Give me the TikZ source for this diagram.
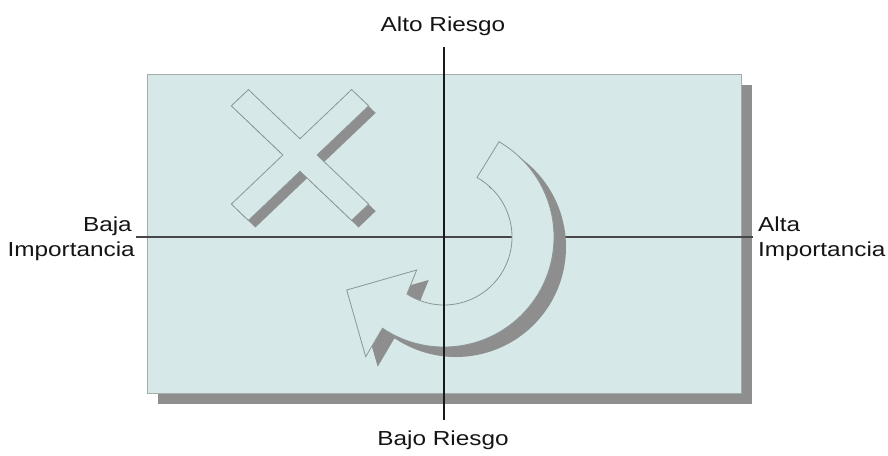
\documentclass[tikz,border=0pt]{standalone}
\usepackage{fontspec}
\setmainfont{Liberation Sans}[FakeStretch=1.2]
\definecolor{bgc}{RGB}{214,232,232}
\definecolor{shd}{RGB}{142,142,142}
\definecolor{edgec}{RGB}{140,150,150}
\definecolor{txtc}{RGB}{20,20,20}
\begin{document}
\begin{tikzpicture}[x=1pt,y=-1pt,
  lbl/.style={inner sep=0pt, font=\fontsize{20.3}{24}\selectfont, text=txtc},
  shadowfill/.style={fill=shd, draw=none},
  shapefill/.style={fill=bgc, draw=edgec, line width=0.8pt},
  haxis/.style={draw=black!72, line width=1.5pt},
  vaxis/.style={draw=black!90, line width=1.2pt}]
\useasboundingbox (0,0) rectangle (888,455);
% background panel with shadow
\coordinate (rtl) at (147,74);
\coordinate (rbr) at (741,393);
\coordinate (stl) at (158,85);
\coordinate (sbr) at (752,404);
\fill[shadowfill] (stl) rectangle (sbr);
\draw[fill=bgc, draw=edgec!80, line width=0.8pt] (rtl) rectangle (rbr);
% horizontal axis
\coordinate (hl) at (136,237);
\coordinate (hr) at (753,237);
\draw[haxis] (hl) -- (hr);
% cross
\def\xcross{(11.5,11.5) -- (81,11.5) -- (81,-11.5) -- (11.5,-11.5) -- (11.5,-81) -- (-11.5,-81) -- (-11.5,-11.5) -- (-81,-11.5) -- (-81,11.5) -- (-11.5,11.5) -- (-11.5,81) -- (11.5,81) -- cycle}
\fill[shadowfill, shift={(307,162)}, xscale=1.05, rotate=45] \xcross;
\filldraw[shapefill, shift={(300,155)}, xscale=1.05, rotate=45] \xcross;
% curved arrow
\def\arrowshape{(-61:68) arc[start angle=-61, end angle=123, radius=68] -- (-27.3,33) -- (-97.3,53) -- (-78.3,119.7) -- (124:110) arc[start angle=124, end angle=-60, radius=110] -- cycle}
\fill[shadowfill, shift={(456,247)}] \arrowshape;
\filldraw[shapefill, shift={(444,237)}] \arrowshape;
% vertical axis
\coordinate (vt) at (444,47);
\coordinate (vb) at (444,420);
\draw[vaxis] (vt) -- (vb);
% labels
\node[lbl, anchor=base] (alto) at (443,31) {Alto Riesgo};
\node[lbl, anchor=base] (bajo) at (443,445) {Bajo Riesgo};
\node[lbl, anchor=base east] (baja) at (132,231) {Baja};
\node[lbl, anchor=base east] (impl) at (135,256) {Importancia};
\node[lbl, anchor=base west] (alta) at (758,231) {Alta};
\node[lbl, anchor=base west] (impr) at (758,256) {Importancia};
\end{tikzpicture}
\end{document}
